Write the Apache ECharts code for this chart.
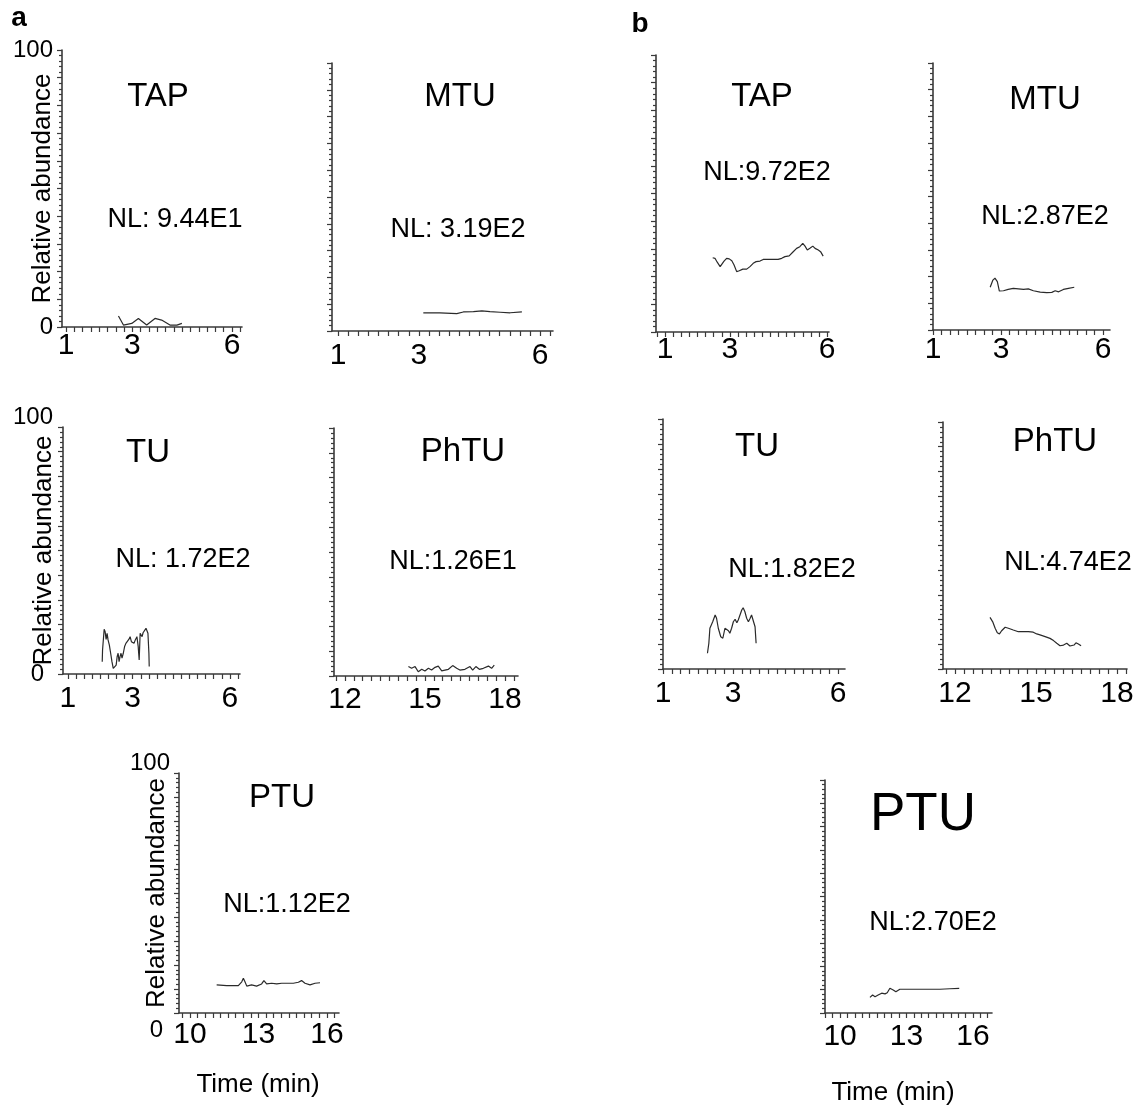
<!DOCTYPE html>
<html><head><meta charset="utf-8">
<script src="https://cdn.jsdelivr.net/npm/echarts@6/dist/echarts.min.js"></script>
<style>html,body{margin:0;padding:0;background:#fff}#c{width:1142px;height:1107px}</style>
</head><body><div id="c"></div>
<script>
// ---- data (time in min, relative abundance in %) ----
const compounds = ['TAP','MTU','TAP','MTU','TU','PhTU','TU','PhTU','PTU','PTU'];
const nlLabels = ['NL: 9.44E1','NL: 3.19E2','NL:9.72E2','NL:2.87E2','NL: 1.72E2','NL:1.26E1','NL:1.82E2','NL:4.74E2','NL:1.12E2','NL:2.70E2'];
const panelLetters = ['a','b'];
const xTicks1to6 = [1,3,6];
const xTicks12to18 = [12,15,18];
const xTicks10to16 = [10,13,16];
const yTickLabels = [0,100];
const yAxisTitle = 'Relative abundance';
const xAxisTitle = 'Time (min)';

const aTAP = [[2.58,4.0],[2.73,0.7],[2.98,1.3],[3.18,3.1],[3.43,0.7],[3.68,3.1],[3.88,2.5],[4.13,0.7],[4.34,0.7],[4.49,1.3]];
const aMTU = [[3.11,6.8],[3.52,6.8],[3.94,6.5],[4.10,7.1],[4.35,7.2],[4.56,7.5],[4.76,7.2],[5.01,7.0],[5.26,6.8],[5.55,7.1]];
const bTAP = [[2.47,26.8],[2.54,26.6],[2.61,25.2],[2.70,23.6],[2.75,23.8],[2.82,25.6],[2.90,26.6],[2.98,26.4],[3.06,25.7],[3.13,24.2],[3.21,21.8],[3.29,22.1],[3.40,22.7],[3.52,22.7],[3.62,23.6],[3.72,24.8],[3.81,25.4],[3.93,25.6],[4.03,26.2],[4.24,26.2],[4.49,26.2],[4.60,26.6],[4.70,27.2],[4.83,27.5],[4.94,28.8],[5.06,30.2],[5.16,30.8],[5.25,32.0],[5.32,31.0],[5.39,29.6],[5.47,30.2],[5.56,31.0],[5.63,30.2],[5.73,29.6],[5.80,29.0],[5.88,27.4]];
const bMTU = [[2.68,16.0],[2.76,18.7],[2.82,19.4],[2.89,18.1],[2.95,14.6],[3.07,14.7],[3.21,15.2],[3.36,15.6],[3.51,15.4],[3.66,15.2],[3.80,15.4],[3.95,14.7],[4.15,14.2],[4.34,14.0],[4.49,14.1],[4.59,14.7],[4.69,14.3],[4.83,15.2],[4.98,15.6],[5.15,16.0]];
const aTU = [[2.06,5.0],[2.07,9.7],[2.12,18.1],[2.15,17.1],[2.18,14.0],[2.21,16.5],[2.24,13.8],[2.28,11.7],[2.32,8.4],[2.36,5.0],[2.40,2.3],[2.45,1.6],[2.49,3.6],[2.52,7.0],[2.55,8.4],[2.58,5.0],[2.61,7.0],[2.64,8.4],[2.67,6.4],[2.71,8.4],[2.75,11.1],[2.79,12.4],[2.84,12.7],[2.88,14.0],[2.92,15.1],[2.96,13.1],[3.00,13.8],[3.04,12.4],[3.08,13.8],[3.13,15.1],[3.17,11.1],[3.20,5.7],[3.23,16.5],[3.26,17.1],[3.29,15.1],[3.32,16.7],[3.35,17.5],[3.38,16.5],[3.41,18.5],[3.44,17.8],[3.47,16.5],[3.50,8.4],[3.51,3.0]];
const aPhTU = [[14.38,3.8],[14.50,3.1],[14.63,3.8],[14.75,1.7],[14.88,2.7],[15.00,2.0],[15.13,3.1],[15.25,2.4],[15.38,3.5],[15.50,4.0],[15.63,2.1],[15.75,2.4],[15.88,2.7],[16.04,4.2],[16.19,3.1],[16.31,2.4],[16.50,2.7],[16.69,3.8],[16.79,2.4],[16.91,3.8],[17.04,2.7],[17.19,3.1],[17.38,4.0],[17.50,3.1],[17.60,4.4]];
const bTU = [[2.27,6.3],[2.31,10.3],[2.34,16.3],[2.42,18.9],[2.49,21.6],[2.53,20.3],[2.58,16.3],[2.65,12.9],[2.71,12.3],[2.77,16.3],[2.82,16.9],[2.87,15.3],[2.91,14.3],[2.96,16.3],[3.01,18.9],[3.06,19.9],[3.11,18.5],[3.15,19.6],[3.20,21.6],[3.25,23.6],[3.29,24.5],[3.34,22.9],[3.39,20.3],[3.44,18.9],[3.49,20.3],[3.53,21.6],[3.58,20.9],[3.63,16.9],[3.66,10.3]];
const bPhTU = [[13.30,20.9],[13.40,19.1],[13.49,16.5],[13.57,14.7],[13.65,14.2],[13.73,15.5],[13.86,16.9],[13.98,16.5],[14.16,15.8],[14.35,15.1],[14.53,15.1],[14.72,15.1],[14.90,14.9],[15.03,14.2],[15.15,13.8],[15.34,13.1],[15.52,12.4],[15.65,11.5],[15.77,10.4],[15.89,9.4],[16.02,9.7],[16.14,10.4],[16.26,9.3],[16.33,8.8],[16.41,9.7],[16.48,10.6],[16.57,10.1],[16.67,9.4]];
const aPTU = [[11.17,11.7],[11.61,11.4],[12.12,11.4],[12.27,13.0],[12.34,14.5],[12.41,13.0],[12.49,11.2],[12.70,11.7],[12.92,11.2],[13.14,12.1],[13.24,13.5],[13.36,12.1],[13.58,12.4],[13.80,12.1],[14.02,12.4],[14.24,12.4],[14.53,12.4],[14.75,12.8],[14.89,13.5],[15.04,12.4],[15.26,11.7],[15.48,12.4],[15.70,12.6]];
const bPTU = [[11.35,6.7],[11.47,7.7],[11.58,7.0],[11.72,7.7],[11.88,8.5],[12.03,8.2],[12.13,8.7],[12.25,10.6],[12.33,10.9],[12.40,9.9],[12.52,9.1],[12.70,10.2],[13.01,10.2],[13.61,10.2],[14.13,10.2],[14.51,10.2],[14.96,10.4],[15.38,10.6]];

// ---- layout ----
const FONT = 'Liberation Sans, Arial, Helvetica, sans-serif';
const INK = '#000';
const AX = '#3a3a3a';
const panels = [
  {d:aTAP,  g:[62,50,180,277],  x:[0.88,6.30],  step:0.25, lab:xTicks1to6,   lm:4,  yl:{m:9,  t:0,  z:0, zr:0}, ng:6, t:[158,97],  n:[175,220]},
  {d:aMTU,  g:[332,63,221,268], x:[0.85,6.32],  step:0.25, lab:xTicks1to6,   lm:10, yl:null, t:[460,97],  n:[458,230]},
  {d:bTAP,  g:[656,55,173,277], x:[0.72,6.06],  step:0.25, lab:xTicks1to6,   lm:3,  yl:null, t:[762,97],  n:[767,173]},
  {d:bMTU,  g:[933,63,177,267], x:[1.0,6.2],    step:0.25, lab:xTicks1to6,   lm:5,  yl:null, t:[1045,100],n:[1045,217]},
  {d:aTU,   g:[63,427,177,247], x:[0.85,6.31],  step:0.25, lab:xTicks1to6,   lm:10, yl:{m:10, t:20, z:0, zr:9}, ng:6, t:[148,453], n:[183,560]},
  {d:aPhTU, g:[334,428,184,248],x:[11.59,18.49],step:1/3,  lab:xTicks12to18, lm:9,  yl:null, t:[463,452], n:[453,562]},
  {d:bTU,   g:[663,419,182,250],x:[1.0,6.2],    step:0.25, lab:xTicks1to6,   lm:10, yl:null, t:[757,447], n:[792,570]},
  {d:bPhTU, g:[943,422,184,247],x:[11.56,18.37],step:1/3,  lab:xTicks12to18, lm:10, yl:null, t:[1055,442],n:[1068,563]},
  {d:aPTU,  g:[179,773,160,240],x:[9.52,16.53], step:1/3,  lab:xTicks10to16, lm:7,  yl:{m:9,  t:20, z:34, zr:7}, ng:9, t:[282,798], n:[287,905], tm:[258,1085]},
  {d:bPTU,  g:[825,780,167,233],x:[9.32,16.86], step:1/3,  lab:xTicks10to16, lm:9,  yl:null, t:[923,815], n:[933,923], tm:[893,1093], big:true}
];

function tickValues(min, max, step){
  const out = [];
  for (let k = Math.ceil(min/step - 1e-9); k*step <= max + 1e-9; k++) out.push(+(k*step).toFixed(5));
  return out;
}

const grids = [], xAxes = [], yAxes = [], series = [], graphics = [];
panels.forEach((p, i) => {
  grids.push({left:p.g[0], top:p.g[1], width:p.g[2], height:p.g[3], containLabel:false, outerBoundsMode:'none'});
  xAxes.push({
    type:'value', gridIndex:i, min:p.x[0], max:p.x[1],
    axisLine:{show:true, onZero:false, lineStyle:{color:AX, width:1.6}},
    axisTick:{show:true, length:5, customValues:tickValues(p.x[0], p.x[1], p.step), lineStyle:{color:AX, width:1.2}},
    axisLabel:{show:true, customValues:p.lab, margin:p.lm, fontSize:30, color:INK, fontFamily:FONT},
    splitLine:{show:false}
  });
  const y = p.yl;
  yAxes.push({
    type:'value', gridIndex:i, min:0, max:100, interval:10,
    axisLine:{show:true, onZero:false, lineStyle:{color:AX, width:1.6}},
    axisTick:{show:true, length:5, lineStyle:{color:AX, width:1.2}},
    minorTick:{show:true, splitNumber:5, length:3, lineStyle:{color:AX, width:1.2}},
    splitLine:{show:false}, minorSplitLine:{show:false},
    axisLabel: y ? {
      show:true, margin:y.m, fontSize:24, color:INK, fontFamily:FONT,
      formatter: v => v === yTickLabels[1] ? '{t|' + v + '}' : (v === yTickLabels[0] ? '{z|' + v + '}' : ''),
      rich:{ t:{fontSize:24, fontFamily:FONT, color:INK, padding:[0,0,y.t,0]},
             z:{fontSize:24, fontFamily:FONT, color:INK, padding:[y.z,y.zr,0,0]} }
    } : {show:false},
    name: y ? yAxisTitle : '', nameLocation:'middle', nameRotate:90, nameGap: p.ng || 6,
    nameMoveOverlap:false,
    nameTextStyle:{fontSize:26, color:INK, fontFamily:FONT}
  });
  series.push({
    type:'line', xAxisIndex:i, yAxisIndex:i, data:p.d, showSymbol:false, symbol:'none',
    smooth:false, silent:true, lineStyle:{color:'#2a2a2a', width:1.2}, itemStyle:{color:'#2a2a2a'}
  });
  graphics.push({type:'text', x:p.t[0], y:p.t[1], silent:true,
    style:{text:compounds[i], font:(p.big?'53px ':'33px ') + FONT, fill:INK, align:'center', verticalAlign:'middle'}});
  graphics.push({type:'text', x:p.n[0], y:p.n[1], silent:true,
    style:{text:nlLabels[i], font:'27px ' + FONT, fill:INK, align:'center', verticalAlign:'middle'}});
  if (p.tm) graphics.push({type:'text', x:p.tm[0], y:p.tm[1], silent:true,
    style:{text:xAxisTitle, font:'26px ' + FONT, fill:INK, align:'center', verticalAlign:'middle'}});
});
graphics.push({type:'text', x:19, y:18, silent:true, style:{text:panelLetters[0], font:'bold 28px ' + FONT, fill:INK, align:'center', verticalAlign:'middle'}});
graphics.push({type:'text', x:640, y:24, silent:true, style:{text:panelLetters[1], font:'bold 28px ' + FONT, fill:INK, align:'center', verticalAlign:'middle'}});

const chart = echarts.init(document.getElementById('c'), null, {renderer:'canvas'});
chart.setOption({
  animation:false, backgroundColor:'#fff',
  grid:grids, xAxis:xAxes, yAxis:yAxes, series:series, graphic:graphics
});
</script></body></html>
